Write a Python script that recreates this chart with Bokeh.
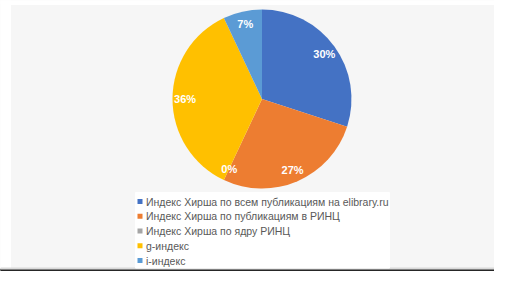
import math
from bokeh.plotting import figure
from bokeh.models import Range1d
from bokeh.core.properties import value
from bokeh.embed import file_html
from bokeh.resources import INLINE

# ---- data ----
categories = [
    "Индекс Хирша по всем публикациям на elibrary.ru",
    "Индекс Хирша по публикациям в РИНЦ",
    "Индекс Хирша по ядру РИНЦ",
    "g-индекс",
    "i-индекс",
]
shares = [30, 27, 0, 36, 7]
colors = ["#4472C4", "#ED7D31", "#A5A5A5", "#FFC000", "#5B9BD5"]

# ---- layout (1 data unit = 1 px; y measured upward from page bottom) ----
W, H = 494, 271
p = figure(width=W, height=H, output_backend="svg", toolbar_location=None,
           x_range=Range1d(0, W), y_range=Range1d(287 - H, 287),
           min_border=0, background_fill_color="#f6f6f6",
           border_fill_color="#f6f6f6", outline_line_color=None)
p.axis.visible = False
p.grid.visible = False

# surrounding slide elements
p.quad(left=[0], right=[10], bottom=[0], top=[287], color="white")
p.quad(left=[0], right=[510], bottom=[283], top=[287], color="white")
p.quad(left=[0], right=[510], bottom=[0], top=[18.5], color="#262626")
p.quad(left=[0], right=[510], bottom=[18.5], top=[19.5], color="#d9d9d9")

# pie
cx, cy, R = 261.5, 188.5, 89.5
total = sum(shares)
cum = 0.0
label_pos = []
for name, v, c in zip(categories, shares, colors):
    a0 = math.pi / 2 - 2 * math.pi * (cum + v) / total
    a1 = math.pi / 2 - 2 * math.pi * cum / total
    if v > 0:
        p.wedge(x=[cx], y=[cy], radius=R, start_angle=[a0], end_angle=[a1],
                fill_color=c, line_color=None)
    mid = (a0 + a1) / 2
    rl = 0.86 * R
    label_pos.append((cx + rl * math.cos(mid), cy + rl * math.sin(mid),
                      f"{round(100 * v / total)}%"))
    cum += v

p.text(x=[l[0] for l in label_pos], y=[l[1] for l in label_pos],
       text=[l[2] for l in label_pos], text_color="white",
       text_font=value("Liberation Sans"), text_font_style="bold",
       text_font_size="11px", text_align="center", text_baseline="middle")

# legend
p.quad(left=[135], right=[389], bottom=[19.5], top=[95], color="white")
row0, step = 86, 14.75
for i, (name, c) in enumerate(zip(categories, colors)):
    y = row0 - i * step
    p.rect(x=[139.5], y=[y], width=5, height=5, fill_color=c, line_color=None)
    p.text(x=[145.5], y=[y], text=[name], text_color="#595959",
           text_font=value("Liberation Sans"), text_font_size="10.5px",
           text_align="left", text_baseline="middle")

open("out.html", "w").write(file_html(p, INLINE))
